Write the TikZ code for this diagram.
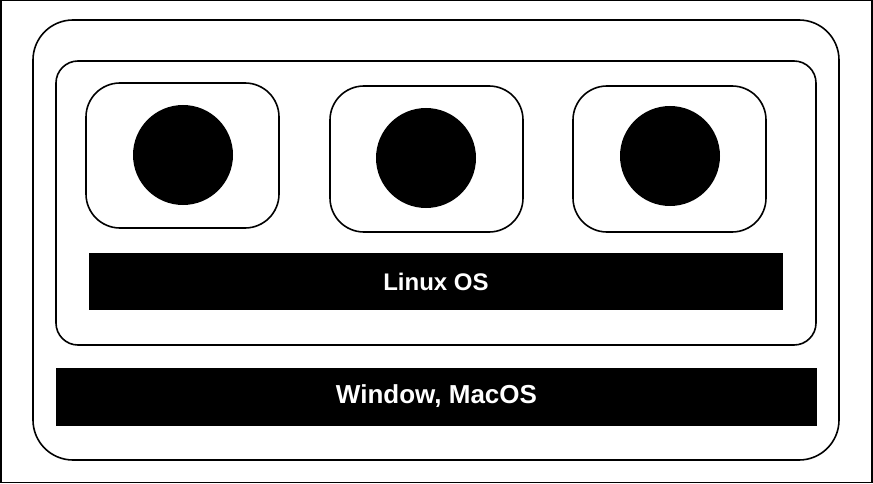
\documentclass[tikz,border=0pt]{standalone}
\usepackage{fontspec}
\setmainfont{Liberation Sans}
\begin{document}
\begin{tikzpicture}[x=1pt,y=-1pt,
  frame/.style={draw=black,line width=1.6pt,rounded corners=#1,inner sep=0pt,outer sep=0pt,fill=none},
  ball/.style={circle,fill=black,minimum size=100pt,inner sep=0pt},
  bar/.style={fill=black,inner sep=0pt,text=white}]
\useasboundingbox (0,0) rectangle (873,484);
\node[draw=black,line width=1.5pt,minimum width=871pt,minimum height=481.5pt,inner sep=0pt] (border) at (436.5,241.5) {};
\node[frame=40pt,minimum width=806pt,minimum height=440pt] (host) at (436,240) {};
\node[frame=22pt,minimum width=760pt,minimum height=284pt] (vm) at (436,203) {};
\node[frame=34pt,minimum width=193pt,minimum height=145pt] (c1) at (182.5,155.5) {};
\node[frame=34pt,minimum width=193pt,minimum height=146pt] (c2) at (426.5,159) {};
\node[frame=34pt,minimum width=193pt,minimum height=146pt] (c3) at (669.5,159) {};
\node[ball] (b1) at (183,155) {};
\node[ball] (b2) at (426,158) {};
\node[ball] (b3) at (670,156) {};
\node[bar,minimum width=694pt,minimum height=57pt,font=\bfseries\fontsize{24}{28}\selectfont] (linux) at (436,281.5) {Linux OS};
\node[bar,minimum width=761pt,minimum height=58pt,font=\bfseries\fontsize{26}{30}\selectfont] (hostos) at (436.5,396.5) {Window, MacOS};
\end{tikzpicture}
\end{document}
